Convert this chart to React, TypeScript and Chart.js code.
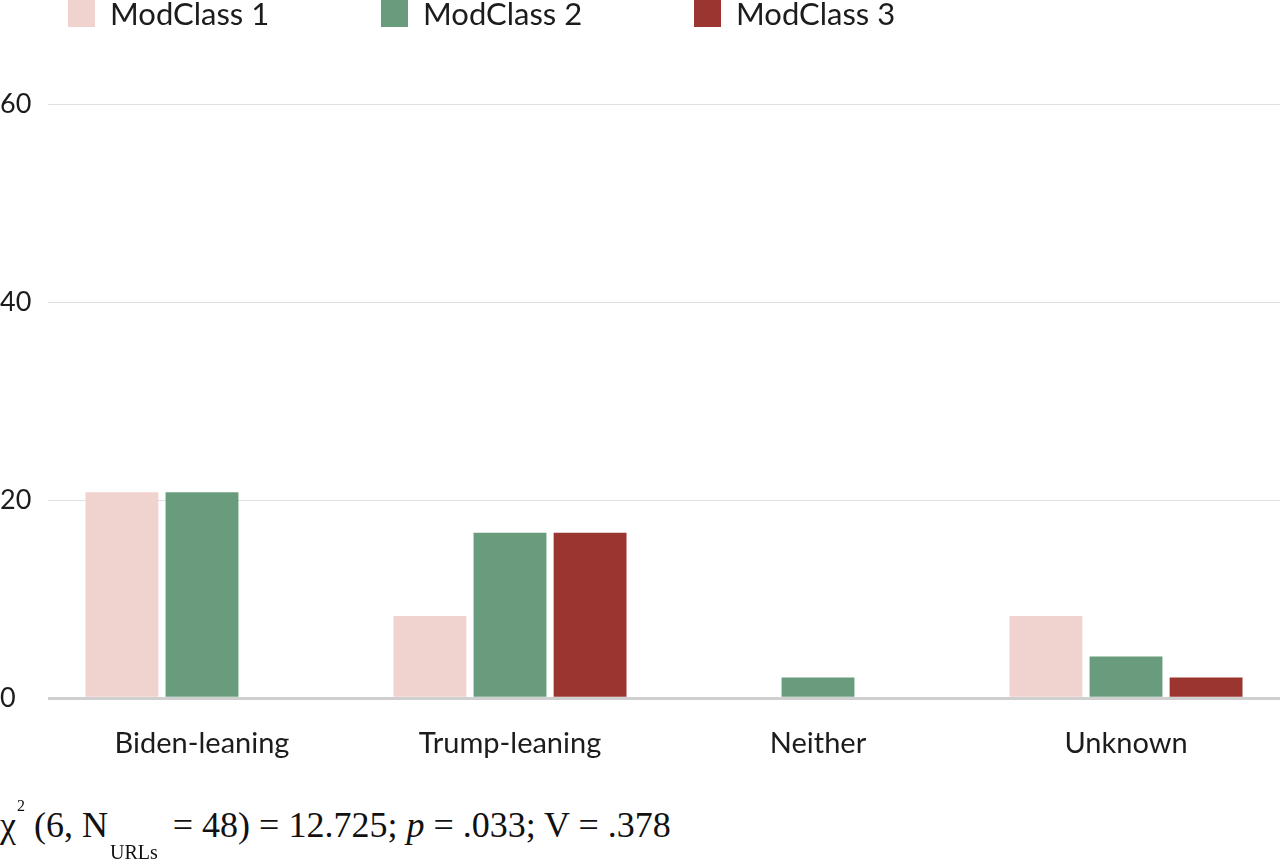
import React, { useEffect, useRef } from "react";
import { Chart, registerables, type ChartConfiguration, type Plugin } from "chart.js";

Chart.register(...registerables);

const categories = ["Biden-leaning", "Trump-leaning", "Neither", "Unknown"];
const seriesNames = ["ModClass 1", "ModClass 2", "ModClass 3"];
const modClass1 = [20.8, 8.3, 0, 8.3];
const modClass2 = [20.8, 16.7, 2.1, 4.2];
const modClass3 = [0, 16.7, 0, 2.1];
const yTicks = [0, 20, 40, 60];

const colors = ["#f0d2cf", "#689c7c", "#9b3530"];
const FONT = "Lato, 'Noto Sans', sans-serif";

// legend drawn in a fixed row above the plot, like the original
const topLegend: Plugin<"bar"> = {
  id: "topLegend",
  afterDraw(chart) {
    const { ctx } = chart;
    ctx.save();
    ctx.font = `31px ${FONT}`;
    ctx.textBaseline = "middle";
    ctx.textAlign = "left";
    chart.data.datasets.forEach((ds, i) => {
      const x = 68 + i * 313;
      ctx.fillStyle = ds.backgroundColor as string;
      ctx.fillRect(x, 0, 27, 27);
      ctx.fillStyle = "#1c1c1c";
      ctx.fillText(ds.label ?? "", x + 42, 15);
    });
    ctx.restore();
  },
};

export default function App() {
  const canvasRef = useRef<HTMLCanvasElement | null>(null);
  const chartRef = useRef<Chart<"bar"> | null>(null);

  useEffect(() => {
    document.body.style.margin = "0";
    if (!canvasRef.current) return;

    const values = [modClass1, modClass2, modClass3];
    const config: ChartConfiguration<"bar"> = {
      type: "bar",
      data: {
        labels: categories,
        datasets: seriesNames.map((name, i) => ({
          label: name,
          data: values[i],
          backgroundColor: colors[i],
          borderWidth: 0,
          barPercentage: 0.91,
          categoryPercentage: 0.78,
        })),
      },
      options: {
        responsive: false,
        animation: false,
        layout: { padding: { top: 104, bottom: 12, left: 0, right: 0 } },
        plugins: {
          legend: { display: false },
          tooltip: { enabled: false },
        },
        scales: {
          x: {
            grid: { display: false, drawTicks: false },
            border: { display: false },
            ticks: {
              color: "#1c1c1c",
              font: { family: FONT, size: 29 },
              padding: 28,
            },
          },
          y: {
            min: 0,
            max: 60,
            afterFit(scale) {
              scale.width = 48;
            },
            afterBuildTicks(scale) {
              scale.ticks = yTicks.map((v) => ({ value: v }));
            },
            border: { display: false },
            grid: {
              drawTicks: false,
              color: (ctx) => (ctx.tick && ctx.tick.value === 0 ? "#cfcfcf" : "#e0e0e0"),
              lineWidth: (ctx) => (ctx.tick && ctx.tick.value === 0 ? 3 : 1),
            },
            ticks: {
              color: "#1c1c1c",
              font: { family: FONT, size: 27 },
              crossAlign: "far",
              padding: 0,
            },
          },
        },
      },
      plugins: [topLegend],
    };

    chartRef.current = new Chart(canvasRef.current, config);

    return () => {
      chartRef.current?.destroy();
      chartRef.current = null;
    };
  }, []);

  return (
    <div style={{ position: "relative", width: 1280, height: 859, background: "#fff", overflow: "hidden" }}>
      <canvas ref={canvasRef} width={1280} height={801} aria-label="ModClass bar chart" />
      <div
        style={{
          position: "absolute",
          left: 0,
          top: 807,
          fontFamily: "'Liberation Serif', 'Times New Roman', serif",
          fontSize: 36,
          lineHeight: "36px",
          color: "#111",
          whiteSpace: "nowrap",
        }}
      >
        χ<span style={{ position: "relative", top: -26, fontSize: 16, marginLeft: 1 }}>2</span> (6, N
        <span style={{ position: "relative", top: 22, fontSize: 20, marginLeft: 2, marginRight: 6 }}>URLs</span> = 48) = 12.725; <i>p</i> = .033; V = .378
      </div>
    </div>
  );
}
